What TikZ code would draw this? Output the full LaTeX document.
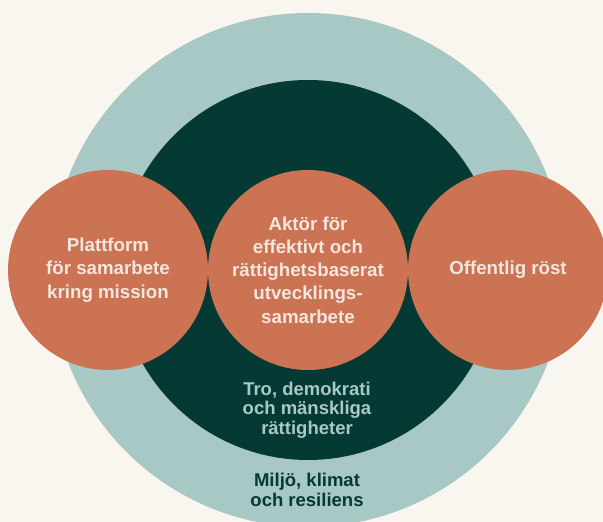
\documentclass[tikz,border=0pt]{standalone}
\usepackage{fontspec}
\setmainfont{Liberation Sans}
\definecolor{bgcream}{HTML}{F9F6EF}
\definecolor{lightteal}{HTML}{A8C8C6}
\definecolor{darkgreen}{HTML}{053A34}
\definecolor{terracotta}{HTML}{CB7353}
\definecolor{paletext}{HTML}{F3E6DE}
\tikzset{
  ring/.style={circle, inner sep=0pt, draw=none},
  pillar/.style={circle, fill=terracotta, minimum size=200pt, inner sep=0pt,
    text=paletext, align=center, font=\bfseries\fontsize{18.7}{23.3}\selectfont},
  innerlabel/.style={align=center, text=lightteal, inner sep=0pt,
    font=\bfseries\fontsize{18.5}{19.3}\selectfont},
  outerlabel/.style={align=center, text=darkgreen, inner sep=0pt,
    font=\bfseries\fontsize{18.5}{20}\selectfont}
}
\begin{document}
\begin{tikzpicture}[x=1pt, y=-1pt]
  \fill[bgcream] (0,0) rectangle (603,522);
  \useasboundingbox (0,0) rectangle (603,522);
  \begin{scope}
    \clip (0,0) rectangle (603,522);
    \node[ring, fill=lightteal, minimum size=514pt] (outer) at (308,270) {};
    \node[ring, fill=darkgreen, minimum size=380pt] (inner) at (308,270) {};
    \node[pillar] (left) at (108,270) {Plattform\\för samarbete\\kring mission};
    \node[pillar] (center) at (308,270) {Aktör för\\effektivt och\\rättighetsbaserat\\utvecklings-\\samarbete};
    \node[pillar] (right) at (508,270) {Offentlig röst};
  \end{scope}
  \node[innerlabel] (tro) at (307,410) {Tro, demokrati\\och mänskliga\\rättigheter};
  \node[outerlabel] (miljo) at (307,490) {Miljö, klimat\\och resiliens};
\end{tikzpicture}
\end{document}
